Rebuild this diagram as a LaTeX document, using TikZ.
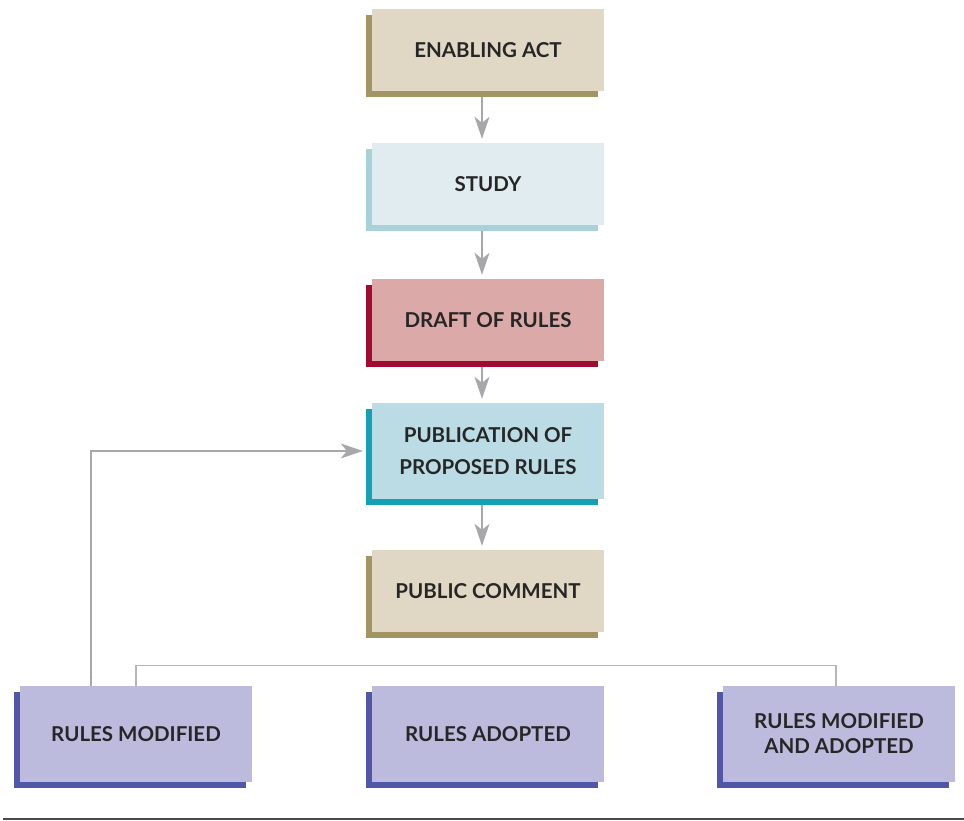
\documentclass[tikz,border=0pt]{standalone}
\usepackage{fontspec}
\setmainfont{Lato}
\usepackage{tikz}
\usetikzlibrary{arrows.meta, shadows, positioning}
\definecolor{tanfill}{HTML}{E0D8C5}
\definecolor{tanedge}{HTML}{A39464}
\definecolor{bluefill}{HTML}{E1ECF1}
\definecolor{blueedge}{HTML}{A8D1DA}
\definecolor{redfill}{HTML}{DBA9A7}
\definecolor{rededge}{HTML}{A00A33}
\definecolor{tealfill}{HTML}{BBDCE4}
\definecolor{tealedge}{HTML}{14A1B5}
\definecolor{violetfill}{HTML}{BDBBDD}
\definecolor{violetedge}{HTML}{4F57A6}
\definecolor{flowgray}{HTML}{A8A8AC}
\definecolor{rulegray}{HTML}{4A4A4A}
\tikzstyle{stage} = [rectangle, minimum width=232pt, minimum height=82pt, text centered, align=center, text=black!85, font=\fontsize{20.5}{25}\selectfont\bfseries]
\tikzstyle{tanbox} = [stage, fill=tanfill, general shadow={fill=tanedge, shadow xshift=-6pt, shadow yshift=-6pt}]
\tikzstyle{bluebox} = [stage, fill=bluefill, general shadow={fill=blueedge, shadow xshift=-6pt, shadow yshift=-6pt}]
\tikzstyle{redbox} = [stage, fill=redfill, general shadow={fill=rededge, shadow xshift=-6pt, shadow yshift=-6pt}]
\tikzstyle{tealbox} = [stage, fill=tealfill, general shadow={fill=tealedge, shadow xshift=-6pt, shadow yshift=-6pt}]
\tikzstyle{outcome} = [stage, minimum height=96pt, fill=violetfill, general shadow={fill=violetedge, shadow xshift=-6pt, shadow yshift=-6pt}]
\tikzstyle{flow} = [line width=1.6pt, draw=flowgray, -{Stealth[length=22pt, width=15pt, inset=6pt, fill=flowgray]}, shorten >=4pt]
\tikzstyle{link} = [line width=1.3pt, draw=flowgray!85]

\begin{document}
\begin{tikzpicture}[x=1pt, y=1pt]
    \useasboundingbox (0,0) rectangle (964,821);
    \node[tanbox] (act) at (488, 771) {ENABLING ACT};
    \node[bluebox] (study) at (488, 637) {STUDY};
    \node[redbox] (draft) at (488, 501) {DRAFT OF RULES};
    \node[tealbox, minimum height=96pt] (pub) at (488, 370) {PUBLICATION OF\\[7pt] PROPOSED RULES};
    \node[tanbox] (comment) at (488, 230) {PUBLIC COMMENT};
    \node[outcome] (mod) at (136, 87) {RULES MODIFIED};
    \node[outcome] (adp) at (488, 87) {RULES ADOPTED};
    \node[outcome] (modadp) at (839, 87) {RULES MODIFIED\\AND ADOPTED};

    \draw[flow] ([shift={(-6pt,-6pt)}]act.south) -- ([xshift=-6pt]study.north);
    \draw[flow] ([shift={(-6pt,-6pt)}]study.south) -- ([xshift=-6pt]draft.north);
    \draw[flow] ([shift={(-6pt,-6pt)}]draft.south) -- ([xshift=-6pt]pub.north);
    \draw[flow] ([shift={(-6pt,-6pt)}]pub.south) -- ([xshift=-6pt]comment.north);
    \draw[flow, line width=1.3pt, shorten >=3pt] ([xshift=-45pt]mod.north) |- ([xshift=-6pt]pub.west);
    \draw[link] (mod.north) -- ++(0,20) -| ([xshift=-3pt]modadp.north);

    \draw[rulegray, line width=2pt] (3,2) -- (964,2);
\end{tikzpicture}
\end{document}
